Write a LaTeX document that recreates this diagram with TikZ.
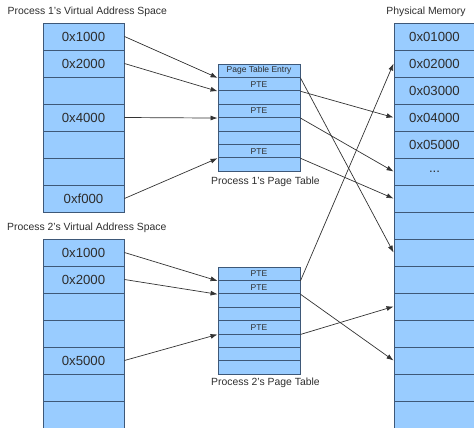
\documentclass[tikz,border=0pt]{standalone}
\usepackage{fontspec}
\setmainfont{Liberation Sans}
\usetikzlibrary{arrows.meta}
\definecolor{cellfill}{RGB}{153,204,255}
\definecolor{cellline}{RGB}{62,88,120}
\definecolor{txt}{RGB}{45,45,45}
\newcommand{\mydots}{...}
\begin{document}
\begin{tikzpicture}[x=1pt,y=-1pt,
  cell/.style={draw=cellline, fill=cellfill, line width=0.9pt, inner sep=0pt,
    minimum width=81pt, minimum height=27pt, font=\fontsize{13.2}{14}\selectfont, text=txt},
  ptecell/.style={cell, minimum width=82pt, minimum height=13.4pt, font=\fontsize{8.5}{9}\selectfont},
  ttl/.style={font=\fontsize{10.4}{12}\selectfont, text=txt, inner sep=0pt},
  link/.style={draw=black!80, line width=0.7pt, -{Latex[length=7pt,width=5pt]}}]
\useasboundingbox (0,0) rectangle (474,428);
\clip (0,0) rectangle (474,428);
% titles
\node[ttl, anchor=west] (t1) at (7.5,12) {Process 1's Virtual Address Space};
\node[ttl] (tm) at (426,12) {Physical Memory};
\node[ttl, anchor=west] (t2) at (7,228) {Process 2's Virtual Address Space};
\node[ttl, anchor=west] (tp1) at (211,182) {Process 1's Page Table};
\node[ttl, anchor=west] (tp2) at (211,383) {Process 2's Page Table};
% process 1 virtual address space
\foreach \i/\t in {0/0x1000,1/0x2000,2/,3/0x4000,4/,5/,6/0xf000}
  \node[cell] (va\i) at (83.5,{36.5+27*\i}) {\t};
% process 2 virtual address space
\foreach \i/\t in {0/0x1000,1/0x2000,2/,3/,4/0x5000,5/,6/}
  \node[cell] (vb\i) at (83.5,{252.5+27*\i}) {\t};
% physical memory
\foreach \i/\t in {0/0x01000,1/0x02000,2/0x03000,3/0x04000,4/0x05000,5/\mydots,6/,7/,8/,9/,10/,11/,12/,13/,14/,15/}
  \node[cell] (m\i) at (434.5,{36.5+27*\i}) {\t};
% page table 1
\foreach \i/\t in {0/Page Table Entry,1/PTE,2/,3/PTE,4/,5/,6/PTE,7/}
  \node[ptecell] (pa\i) at (259,{70.7+13.4*\i}) {\t};
% page table 2
\foreach \i/\t in {0/PTE,1/PTE,2/,3/,4/PTE,5/,6/,7/}
  \node[ptecell] (pb\i) at (259,{273.7+13.4*\i}) {\t};
% virtual -> page table 1
\draw[link] (va0.east) -- (pa0.south west);
\draw[link] (va1.east) -- (pa1.south west);
\draw[link] (va3.east) -- (pa3.south west);
\draw[link] (va6.east) -- (pa6.south west);
% page table 1 -> physical
\draw[link] (pa0.south east) -- (m8.west);
\draw[link] (pa1.south east) -- (m3.west);
\draw[link] (pa3.south east) -- (m5.west);
\draw[link] (pa6.south east) -- (m6.west);
% virtual -> page table 2
\draw[link] (vb0.east) -- (pb0.south west);
\draw[link] (vb1.east) -- (pb1.south west);
\draw[link] (vb4.east) -- (pb4.south west);
% page table 2 -> physical
\draw[link] (pb0.south east) -- (m1.west);
\draw[link] (pb1.south east) -- (m12.west);
\draw[link] (pb4.south east) -- (m10.west);
\end{tikzpicture}
\end{document}
